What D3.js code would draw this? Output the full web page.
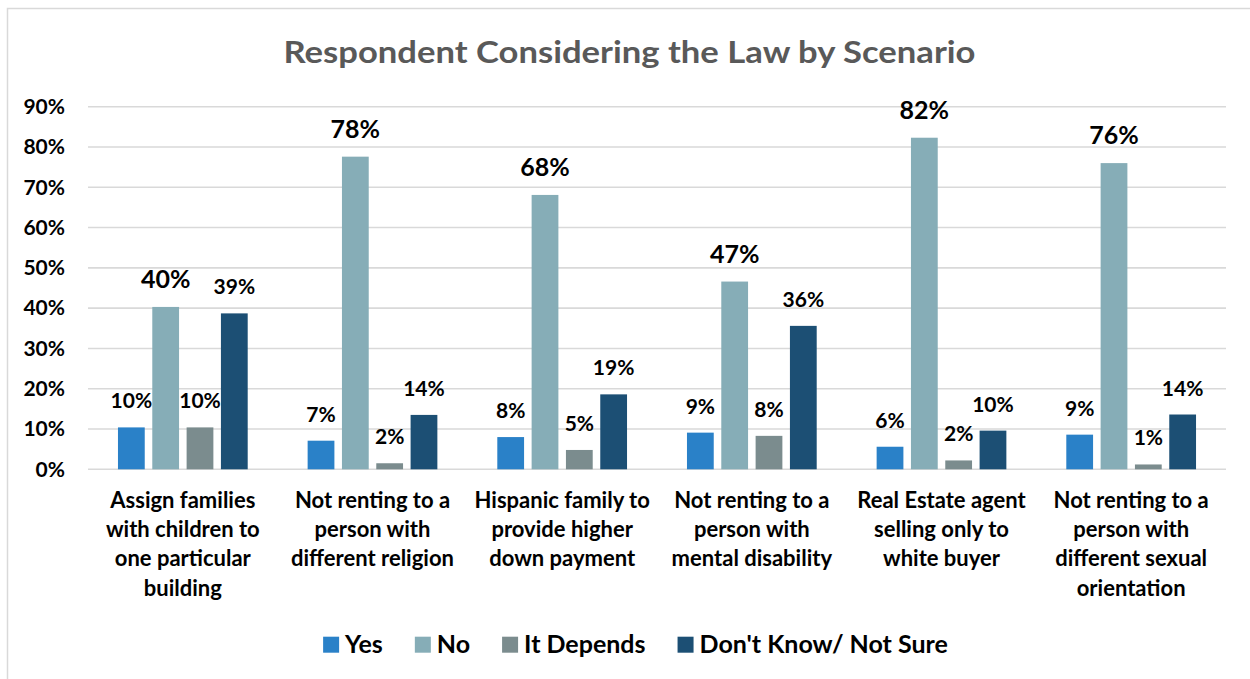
<!DOCTYPE html>
<html>
<head>
<meta charset="utf-8">
<script src="https://cdn.jsdelivr.net/npm/d3@7"></script>
<style>
  html, body { margin: 0; padding: 0; background: #fff; }
  svg { display: block; font-family: Lato, "Open Sans", sans-serif; font-weight: bold; }
</style>
</head>
<body>
<svg id="chart" width="1250" height="679"></svg>
<script>
const categories = [
  ["Assign families", "with children to", "one particular", "building"],
  ["Not renting to a", "person with", "different religion"],
  ["Hispanic family to", "provide higher", "down payment"],
  ["Not renting to a", "person with", "mental disability"],
  ["Real Estate agent", "selling only to", "white buyer"],
  ["Not renting to a", "person with", "different sexual", "orientation"]
];
const seriesNames = ["Yes", "No", "It Depends", "Don't Know/ Not Sure"];
const yesValues = [10.4, 7.1, 8.0, 9.1, 5.6, 8.6];
const noValues = [40.3, 77.6, 68.1, 46.6, 82.3, 76.0];
const dependsValues = [10.4, 1.5, 4.8, 8.3, 2.2, 1.2];
const dontKnowValues = [38.7, 13.5, 18.6, 35.6, 9.6, 13.6];
const yTicks = [0, 10, 20, 30, 40, 50, 60, 70, 80, 90];
const colors = ["#2A81C8", "#86ADB7", "#7B8C8E", "#1C4F74"];
const title = "Respondent Considering the Law by Scenario";

const seriesValues = [yesValues, noValues, dependsValues, dontKnowValues];
const svg = d3.select("#chart");

// outer border
svg.append("rect").attr("x", 7.5).attr("y", 8.5).attr("width", 1260).attr("height", 700)
  .attr("fill", "none").attr("stroke", "#d9d9d9").attr("stroke-width", 1.5);

const plot = { left: 88, right: 1226, top: 106.7, bottom: 469.3 };
const y = d3.scaleLinear().domain([0, 90]).range([plot.bottom, plot.top]);
const catIdx = d3.range(categories.length);
const x0 = d3.scaleBand().domain(catIdx).range([plot.left, plot.right]);
const bw0 = x0.bandwidth();
const margin = bw0 * 0.158;
const x1 = d3.scaleBand().domain(d3.range(seriesNames.length))
  .range([margin, bw0 - margin]).paddingInner(0.22).paddingOuter(0);

// title
svg.append("text").attr("x", 629.5).attr("y", 62.7).attr("text-anchor", "middle")
  .attr("fill", "#595959").style("font-size", "31px")
  .attr("textLength", 692).attr("lengthAdjust", "spacingAndGlyphs").text(title);

// gridlines
svg.append("g").selectAll("line").data(yTicks).join("line")
  .attr("x1", plot.left).attr("x2", plot.right)
  .attr("y1", d => y(d)).attr("y2", d => y(d))
  .attr("stroke", "#d9d9d9").attr("stroke-width", 1.6);

// y axis labels
const yAxis = d3.axisLeft(y).tickValues(yTicks).tickFormat(d => d + "%").tickSize(0).tickPadding(0);
const gy = svg.append("g").attr("transform", "translate(65,0)").call(yAxis);
gy.select(".domain").remove();
gy.selectAll("text").style("font-size", "21px").style("font-family", "Lato").style("font-weight", "bold")
  .attr("fill", "#000");

// bars
const groups = svg.append("g").selectAll("g").data(catIdx).join("g")
  .attr("transform", i => `translate(${x0(i)},0)`);

groups.selectAll("rect").data(i => seriesValues.map((vals, s) => ({ s, v: vals[i] }))).join("rect")
  .attr("x", d => x1(d.s)).attr("width", x1.bandwidth())
  .attr("y", d => y(d.v)).attr("height", d => y(0) - y(d.v))
  .attr("fill", d => colors[d.s]);

groups.selectAll("text").data(i => seriesValues.map((vals, s) => ({ s, v: vals[i] }))).join("text")
  .attr("x", d => x1(d.s) + x1.bandwidth() / 2)
  .attr("y", d => y(d.v) - 19)
  .attr("text-anchor", "middle").attr("fill", "#000")
  .style("font-size", d => d.s === 1 ? "25px" : "21px")
  .text(d => Math.round(d.v) + "%");

// category labels
const xl = svg.append("g").selectAll("text").data(catIdx).join("text")
  .attr("x", i => x0(i) + bw0 / 2).attr("y", 508)
  .attr("text-anchor", "middle").attr("fill", "#000").style("font-size", "22px");
xl.selectAll("tspan").data(i => categories[i]).join("tspan")
  .attr("x", function () { return d3.select(this.parentNode).attr("x"); })
  .attr("dy", (d, j) => j === 0 ? 0 : 29.2)
  .text(d => d);

// legend
const legend = svg.append("g");
let lx = 0;
seriesNames.forEach((name, s) => {
  const g = legend.append("g");
  g.append("rect").attr("x", 0).attr("y", -16).attr("width", 16).attr("height", 16).attr("fill", colors[s]);
  const t = g.append("text").attr("x", 22).attr("y", 0).attr("fill", "#000")
    .style("font-size", "25px").text(name);
  const w = 22 + t.node().getComputedTextLength();
  g.attr("transform", `translate(${lx},0)`);
  lx += w + 32;
});
const totalW = lx - 32;
legend.attr("transform", `translate(${635.5 - totalW / 2},652.7)`);
</script>
</body>
</html>
